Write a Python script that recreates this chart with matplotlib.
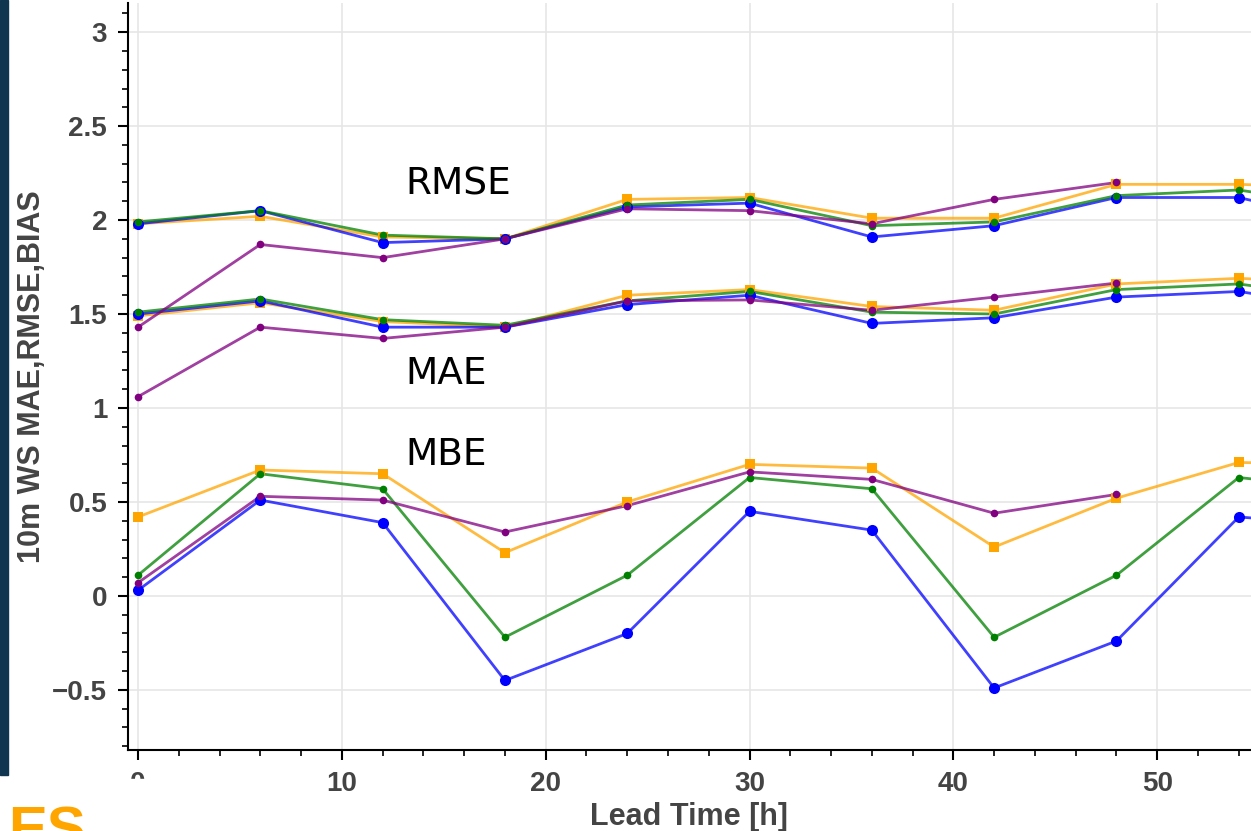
import numpy as np
import matplotlib
matplotlib.use("Agg")
from matplotlib import pyplot as plt
from matplotlib.ticker import MultipleLocator, FuncFormatter
from matplotlib.patches import Rectangle

# lead times (hours)
lead_time = [0, 6, 12, 18, 24, 30, 36, 42, 48, 54, 60]

# RMSE
rmse_orange = [1.98, 2.02, 1.91, 1.90, 2.11, 2.12, 2.01, 2.01, 2.19, 2.19, 2.17]
rmse_blue = [1.98, 2.05, 1.88, 1.90, 2.07, 2.09, 1.91, 1.97, 2.12, 2.12, 1.97]
rmse_green = [1.99, 2.05, 1.92, 1.90, 2.08, 2.11, 1.97, 1.99, 2.13, 2.16, 2.06]
rmse_purple = [1.43, 1.87, 1.80, 1.90, 2.06, 2.05, 1.98, 2.11, 2.20, np.nan, np.nan]

# MAE
mae_orange = [1.49, 1.56, 1.46, 1.43, 1.60, 1.63, 1.54, 1.52, 1.66, 1.69, 1.66]
mae_blue = [1.50, 1.57, 1.43, 1.43, 1.55, 1.60, 1.45, 1.48, 1.59, 1.62, 1.52]
mae_green = [1.51, 1.58, 1.47, 1.44, 1.57, 1.62, 1.51, 1.50, 1.63, 1.66, 1.57]
mae_purple = [1.06, 1.43, 1.37, 1.43, 1.57, 1.575, 1.52, 1.59, 1.665, np.nan, np.nan]

# MBE
mbe_orange = [0.42, 0.67, 0.65, 0.23, 0.50, 0.70, 0.68, 0.26, 0.52, 0.71, 0.70]
mbe_blue = [0.03, 0.51, 0.39, -0.45, -0.20, 0.45, 0.35, -0.49, -0.24, 0.42, 0.37]
mbe_green = [0.11, 0.65, 0.57, -0.22, 0.11, 0.63, 0.57, -0.22, 0.11, 0.63, 0.56]
mbe_purple = [0.07, 0.53, 0.51, 0.34, 0.48, 0.66, 0.62, 0.44, 0.54, np.nan, np.nan]

# drawing order: orange, blue, green, purple
styles = [
    ("orange", "s", 7.5, [rmse_orange, mae_orange, mbe_orange]),
    ("blue", "o", 8.0, [rmse_blue, mae_blue, mbe_blue]),
    ("green", "o", 5.5, [rmse_green, mae_green, mbe_green]),
    ("purple", "o", 5.5, [rmse_purple, mae_purple, mbe_purple]),
]

W, H = 1251, 831
fig = plt.figure(figsize=(W / 100, H / 100), dpi=100)
fig.patch.set_facecolor("white")

# axes box in pixels: left spine at x=128, bottom spine at y=750, top at y=3
ax = fig.add_axes([128 / W, 1 - 750 / H, 1 - 128 / W, (750 - 3) / H])
ax.set_xlim(-0.49, 54.6)
ax.set_ylim(-0.82, 3.155)

for colour, marker, ms, series in styles:
    for values in series:
        ax.plot(lead_time, values, color=colour, alpha=0.75, linewidth=2,
                zorder=3)
        ax.plot(lead_time, values, linestyle="none", marker=marker,
                markersize=ms, color=colour, markeredgewidth=0, zorder=4)

# metric labels
label_font = dict(fontsize=27, family="DejaVu Sans", color="black",
                  ha="left", va="center", zorder=5)
ax.text(13.1, 2.19, "RMSE", **label_font)
ax.text(13.1, 1.18, "MAE", **label_font)
ax.text(13.1, 0.75, "MBE", **label_font)

# axes styling (bokeh look)
ax.grid(True, color="#e6e6e6", linewidth=1.2, zorder=0)
ax.set_axisbelow(True)
for side in ("top", "right"):
    ax.spines[side].set_visible(False)
for side in ("left", "bottom"):
    ax.spines[side].set_linewidth(1.5)
    ax.spines[side].set_color("black")

ax.xaxis.set_major_locator(MultipleLocator(10))
ax.xaxis.set_minor_locator(MultipleLocator(2))
ax.yaxis.set_major_locator(MultipleLocator(0.5))
ax.yaxis.set_minor_locator(MultipleLocator(0.1))


def fmt(v, pos):
    s = "%g" % v
    return s.replace("-", "\u2212")


ax.xaxis.set_major_formatter(FuncFormatter(fmt))
ax.yaxis.set_major_formatter(FuncFormatter(fmt))
ax.tick_params(which="major", length=7, width=1.5, direction="out",
               labelsize=20, labelcolor="#444444", pad=8)
ax.tick_params(which="minor", length=4, width=1.2, direction="out")
for lab in ax.get_xticklabels() + ax.get_yticklabels():
    lab.set_fontweight("bold")
    lab.set_family("Liberation Sans")

ax.set_xlabel("Lead Time [h]", fontsize=22, fontweight="bold",
              color="#444444", family="Liberation Sans", labelpad=4)
ax.set_ylabel("10m WS MAE,RMSE,BIAS", fontsize=22, fontweight="bold",
              color="#444444", family="Liberation Sans", labelpad=4)

# slide decorations around the chart
fig.add_artist(Rectangle((0, 1 - 775 / H), 8 / W, 775 / H,
                         transform=fig.transFigure, color="#0f3550",
                         zorder=10))
fig.add_artist(Rectangle((100 / W, 0), 80 / W, 1 - 779 / H,
                         transform=fig.transFigure, color="white",
                         zorder=9))
fig.text(8 / W, -16 / H, "ES", color="#FFA500", fontsize=42,
         fontweight="bold", family="Liberation Sans", ha="left",
         va="baseline", zorder=11)

fig.savefig("out.png", dpi=100)
